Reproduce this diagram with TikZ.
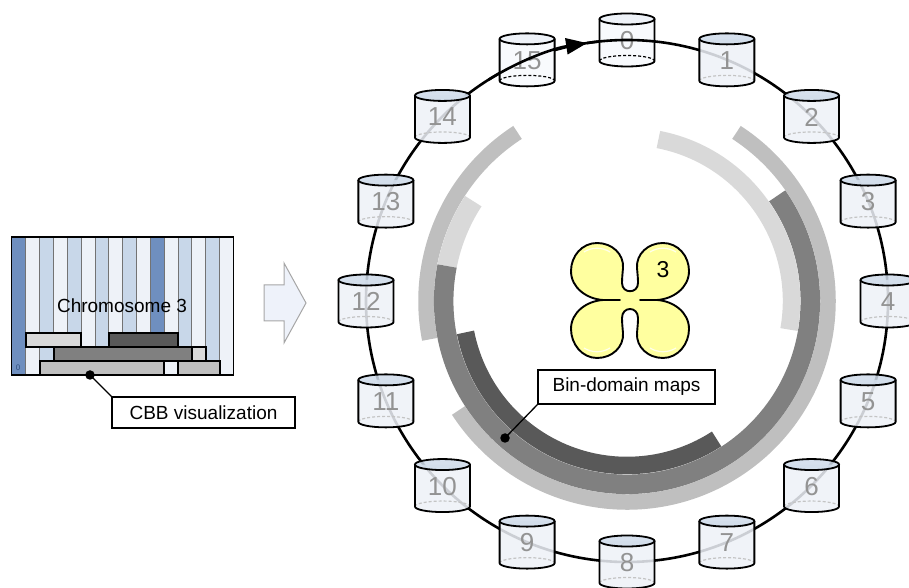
\documentclass[tikz,border=0pt]{standalone}
\usepackage{fontspec}
\setmainfont{Liberation Sans}
\usetikzlibrary{arrows.meta}

\definecolor{bandlight}{HTML}{D9D9D9}
\definecolor{bandmid}{HTML}{BFBFBF}
\definecolor{bandgrey}{HTML}{808080}
\definecolor{banddark}{HTML}{595959}
\definecolor{stripedark}{HTML}{6F8FBF}
\definecolor{stripelight}{HTML}{C8D7E9}
\definecolor{stripepale}{HTML}{EEF2F8}
\definecolor{cylbody}{HTML}{EDF1F7}
\definecolor{cyltop}{HTML}{CFDBEA}
\definecolor{cylbodyw}{HTML}{F8FAFD}
\definecolor{cyltopw}{HTML}{EEF2F8}
\definecolor{cyldash}{HTML}{C4C4C4}
\definecolor{cyllabel}{HTML}{939393}
\definecolor{lobe}{HTML}{FFFF9F}
\definecolor{flowfill}{HTML}{EEF2FA}
\definecolor{flowline}{HTML}{A6A6A6}
\definecolor{zerolabel}{HTML}{2F4F7F}

\tikzset{
  band/.style={line width=#1, line cap=butt},
  ringline/.style={line width=2.6pt, black},
  cyledge/.style={line width=1.8pt, black},
  cyllabel/.style={text=cyllabel, font=\fontsize{26}{30}\selectfont, inner sep=0pt},
  stripe/.style={draw=black!55, line width=0.6pt},
  cbbbar/.style={draw=black, line width=1.2pt},
  notebox/.style={draw=black, fill=white, line width=1.2pt, inner sep=0pt,
    font=\fontsize{19}{22}\selectfont},
  notedot/.style={circle, fill=black, inner sep=0pt, minimum size=9.5pt},
  noteline/.style={line width=1.3pt, black},
}

% one storage bin on the ring: #1 index, #2 body fill, #3 top fill,
% #4 colour of the hidden rim, #5 fill opacity
\newcommand{\binstore}[5]{%
  \pgfmathsetmacro{\binang}{90-22.5*#1}%
  \begin{scope}[shift={(\binang:261)}]
    \fill[#2, fill opacity=#5] (-27.5,21) -- (-27.5,-21)
      arc[start angle=180, end angle=360, x radius=27.5, y radius=5.5]
      -- (27.5,21) -- cycle;
    \draw[#4, line width=1.2pt, dash pattern=on 3pt off 2pt] (-27.5,-21)
      arc[start angle=180, end angle=0, x radius=27.5, y radius=5.5];
    \draw[cyledge] (-27.5,21) -- (-27.5,-21)
      arc[start angle=180, end angle=360, x radius=27.5, y radius=5.5]
      -- (27.5,21);
    \draw[cyledge, fill=#3, fill opacity=#5] (0,21) ellipse[x radius=27.5, y radius=5.5];
    \node[cyllabel] (bin#1) at (0,-0.5) {#1};
  \end{scope}}

\begin{document}
\begin{tikzpicture}[x=1pt, y=1pt]
\useasboundingbox (0,0) rectangle (909,588);
\clip (0,0) rectangle (909,588);

% ---------------- chromosome panel ----------------
\foreach \i/\c in {0/stripedark,1/stripepale,2/stripelight,3/stripepale,
                   4/stripelight,5/stripepale,6/stripelight,7/stripepale,
                   8/stripelight,9/stripepale,10/stripedark,11/stripepale,
                   12/stripelight,13/stripepale,14/stripelight,15/stripepale}
  \draw[stripe, fill=\c] ({11.7+13.85*\i},213) rectangle ({11.7+13.85*(\i+1)},351);
\draw[line width=1.5pt] (11.7,213) rectangle (233.3,351);
\node[text=zerolabel, font=\fontsize{8}{9}\selectfont] (origin) at (18,220) {0};
\node[font=\fontsize{19}{22}\selectfont] (chrom) at (122,282) {Chromosome 3};

\draw[cbbbar, fill=bandlight] (26,241) rectangle (81,255);
\draw[cbbbar, fill=banddark] (109,241) rectangle (178,255);
\draw[cbbbar, fill=bandgrey] (54,227) rectangle (192,241);
\draw[cbbbar, fill=bandlight] (192,227) rectangle (206,241);
\draw[cbbbar, fill=bandmid] (40,213) rectangle (164,227);
\draw[cbbbar, fill=bandmid] (178,213) rectangle (220,227);

\node[notebox, minimum width=183pt, minimum height=31pt] (cbbnote) at (203.5,175.5) {CBB visualization};
\node[notedot] (cbbdot) at (90,213) {};
\draw[noteline] (cbbdot.center) -- (cbbnote.north west);

% ---------------- flow arrow ----------------
\draw[draw=flowline, fill=flowfill, line width=1pt]
  (264,267) -- (284,267) -- (284,245) -- (306,285) -- (284,325)
  -- (284,303) -- (264,303) -- cycle;

% ---------------- ring of bins ----------------
\begin{scope}[shift={(627,287)}]
  % bin-domain map bands
  \draw[band=15.5pt, bandmid]  (123:201) arc[start angle=123, end angle=191, radius=201];
  \draw[band=15.5pt, bandmid]  (213:201) arc[start angle=213, end angle=417, radius=201];
  \draw[band=19.5pt, bandlight] (147:183.3) arc[start angle=147, end angle=169, radius=183.3];
  \draw[band=19.5pt, bandgrey]  (169:183.3) arc[start angle=169, end angle=395, radius=183.3];
  \draw[band=17.5pt, bandlight] (350:164.5) arc[start angle=350, end angle=439, radius=164.5];
  \draw[band=17.5pt, banddark]  (191:164.5) arc[start angle=191, end angle=303, radius=164.5];

  % ring through the bins
  \draw[ringline] (0,0) circle[radius=261];

  \foreach \k in {1,...,14}
    \binstore{\k}{cylbody}{cyltop}{cyldash}{0.86};
  \binstore{15}{cylbodyw}{cyltopw}{black}{1};
  \binstore{0}{cylbodyw}{cyltopw}{black}{1};

  % start of the ring, drawn over the first bins
  \draw[ringline, -{Triangle[length=21pt, width=16pt]}]
    (122:261) arc[start angle=122, end angle=98.8, radius=261];
  \draw[ringline] (98.8:261) arc[start angle=98.8, end angle=84, radius=261];
\end{scope}

% ---------------- chromosome 3 ----------------
\begin{scope}[shift={(630,288)}]
  \draw[line width=1.9pt, fill=lobe, line join=round]
    (-10,0) -- (-27,0)
    .. controls (-43,1) and (-59,12) .. (-59,29)
    .. controls (-59,44) and (-48,57) .. (-33,57)
    .. controls (-18,57) and (-6,46) .. (-7,32)
    .. controls (-7.5,26) and (-8,22) .. (-8,17)
    .. controls (-8,6) and (8,6) .. (8,17)
    .. controls (8,22) and (7.5,26) .. (7,32)
    .. controls (6,46) and (18,57) .. (33,57)
    .. controls (48,57) and (59,44) .. (59,29)
    .. controls (59,12) and (43,1) .. (27,0)
    -- (10,0) -- (27,0)
    .. controls (43,-1) and (59,-12) .. (59,-29)
    .. controls (59,-44) and (48,-58) .. (33,-58)
    .. controls (18,-58) and (6,-47) .. (7,-33)
    .. controls (7.5,-27) and (8,-23) .. (8,-18)
    .. controls (8,-6) and (-8,-6) .. (-8,-18)
    .. controls (-8,-23) and (-7.5,-27) .. (-7,-33)
    .. controls (-6,-47) and (-18,-58) .. (-33,-58)
    .. controls (-48,-58) and (-59,-44) .. (-59,-29)
    .. controls (-59,-12) and (-43,-1) .. (-27,0)
    -- cycle;
  % soft highlights on the lobes
  \foreach \sx in {-33,33} {
    \draw[white, line width=1.2pt, opacity=0.8]
      (\sx-13,48) .. controls (\sx-5,53) and (\sx+5,53) .. (\sx+13,48);
    \draw[white, line width=1.2pt, opacity=0.8]
      (\sx-13,-48) .. controls (\sx-5,-53) and (\sx+5,-53) .. (\sx+13,-48);
  }
  \node[font=\fontsize{23}{26}\selectfont] (chromnum) at (33,30) {3};
\end{scope}

% ---------------- bin-domain map note ----------------
\node[notebox, minimum width=177pt, minimum height=34pt] (mapnote) at (626.5,201) {Bin-domain maps};
\node[notedot] (mapdot) at (505,150) {};
\draw[noteline] (mapdot.center) -- (mapnote.south west);

\end{tikzpicture}
\end{document}
